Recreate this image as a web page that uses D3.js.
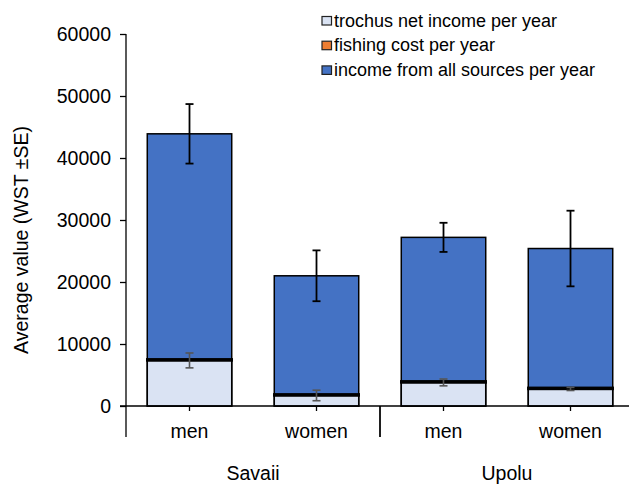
<!DOCTYPE html>
<html>
<head>
<meta charset="utf-8">
<script src="https://cdn.jsdelivr.net/npm/d3@7"></script>
<style>
  html, body { margin: 0; padding: 0; background: #fff; }
  svg { display: block; font-family: "Liberation Sans", Arial, sans-serif; }
</style>
</head>
<body>
<svg id="chart" width="629" height="485"></svg>
<script>
const islands = ["Savaii", "Upolu"];
const categories = ["men", "women", "men", "women"];
const categoryIsland = ["Savaii", "Savaii", "Upolu", "Upolu"];
const trochusIncome = [7350, 1700, 3800, 2750];
const trochusSE = [1200, 850, 550, 250];
const fishingCost = [180, 180, 180, 180];
const totalIncome = [43900, 21000, 27200, 25400];
const totalSE = [4800, 4100, 2350, 6100];
const yTicks = [0, 10000, 20000, 30000, 40000, 50000, 60000];
const seriesNames = ["trochus net income per year", "fishing cost per year", "income from all sources per year"];
const seriesColors = ["#dae3f3", "#ed7d31", "#4472c4"];

const svg = d3.select("#chart");
const idx = categories.map((d, i) => i);

const x = d3.scaleBand().domain(idx).range([126, 634]).paddingInner(0.335).paddingOuter(0.1675);
const y = d3.scaleLinear().domain([0, 60000]).range([406, 34]);

// total income bars (back)
svg.append("g").selectAll("rect").data(idx).join("rect")
  .attr("x", i => x(i)).attr("width", x.bandwidth())
  .attr("y", i => y(totalIncome[i])).attr("height", i => y(0) - y(totalIncome[i]))
  .attr("fill", seriesColors[2]).attr("stroke", "#000").attr("stroke-width", 1.5);

// trochus net income bars
svg.append("g").selectAll("rect").data(idx).join("rect")
  .attr("x", i => x(i)).attr("width", x.bandwidth())
  .attr("y", i => y(trochusIncome[i])).attr("height", i => y(0) - y(trochusIncome[i]))
  .attr("fill", seriesColors[0]).attr("stroke", "#000").attr("stroke-width", 1.5);

// fishing cost (stacked on trochus)
svg.append("g").selectAll("rect").data(idx).join("rect")
  .attr("x", i => x(i)).attr("width", x.bandwidth())
  .attr("y", i => y(trochusIncome[i] + fishingCost[i]))
  .attr("height", i => y(trochusIncome[i]) - y(trochusIncome[i] + fishingCost[i]))
  .attr("fill", seriesColors[1]).attr("stroke", "#000").attr("stroke-width", 2.5);

// error bars
function errBars(vals, ses, color, width) {
  const g = svg.append("g").attr("stroke", color).attr("stroke-width", width).attr("fill", "none");
  idx.forEach(i => {
    const cx = x(i) + x.bandwidth() / 2;
    const y1 = y(vals[i] + ses[i]), y2 = y(vals[i] - ses[i]);
    g.append("line").attr("x1", cx).attr("x2", cx).attr("y1", y1).attr("y2", y2);
    g.append("line").attr("x1", cx - 4).attr("x2", cx + 4).attr("y1", y1).attr("y2", y1);
    g.append("line").attr("x1", cx - 4).attr("x2", cx + 4).attr("y1", y2).attr("y2", y2);
  });
}
errBars(trochusIncome, trochusSE, "#555", 1.6);
errBars(totalIncome, totalSE, "#000", 1.8);

// y axis
const yAxis = svg.append("g").attr("transform", "translate(126,0)")
  .call(d3.axisLeft(y).tickValues(yTicks).tickFormat(d3.format("d")).tickSize(6).tickPadding(9));
yAxis.select(".domain").attr("stroke", "#000").attr("stroke-width", 1.3).attr("d", "M0,34V406");
yAxis.selectAll(".tick line").attr("stroke", "#000").attr("stroke-width", 1.3);
yAxis.selectAll(".tick text").attr("font-size", 19.5).attr("fill", "#000")
  .attr("font-family", "'Liberation Sans', Arial, sans-serif");

// x axis
const xAxis = svg.append("g").attr("transform", "translate(0,406)")
  .call(d3.axisBottom(x).tickFormat(i => categories[i]).tickSize(5).tickPadding(13));
xAxis.select(".domain").attr("stroke", "#000").attr("stroke-width", 1.3).attr("d", "M120,0H634");
xAxis.selectAll(".tick line").attr("stroke", "#000").attr("stroke-width", 1.3);
xAxis.selectAll(".tick text").attr("font-size", 19.5).attr("fill", "#000")
  .attr("font-family", "'Liberation Sans', Arial, sans-serif");

// group separators and island labels
islands.forEach((isl, k) => {
  const members = idx.filter(i => categoryIsland[i] === isl);
  const left = x(members[0]) - x.step() * x.paddingInner() / 2;
  const right = x(members[members.length - 1]) + x.bandwidth() + x.step() * x.paddingInner() / 2;
  svg.append("line").attr("x1", left).attr("x2", left).attr("y1", 406).attr("y2", 437)
    .attr("stroke", "#000").attr("stroke-width", 1.3);
  svg.append("line").attr("x1", right).attr("x2", right).attr("y1", 406).attr("y2", 437)
    .attr("stroke", "#000").attr("stroke-width", 1.3);
  svg.append("text").attr("x", (left + right) / 2).attr("y", 480)
    .attr("text-anchor", "middle").attr("font-size", 19.5).attr("fill", "#000").text(isl);
});

// y axis title
svg.append("text").attr("transform", "translate(28,240) rotate(-90)")
  .attr("text-anchor", "middle").attr("font-size", 19.5).attr("fill", "#000")
  .text("Average value (WST ±SE)");

// legend
const legend = svg.append("g");
seriesNames.forEach((name, k) => {
  const yy = 21 + k * 24.7;
  legend.append("rect").attr("x", 322).attr("y", yy - 4.5).attr("width", 9.5).attr("height", 8.5)
    .attr("fill", seriesColors[k]).attr("stroke", "#222").attr("stroke-width", 1.2);
  legend.append("text").attr("x", 334).attr("y", yy + 5.5).attr("font-size", 18).attr("fill", "#000")
    .text(name);
});
</script>
</body>
</html>
